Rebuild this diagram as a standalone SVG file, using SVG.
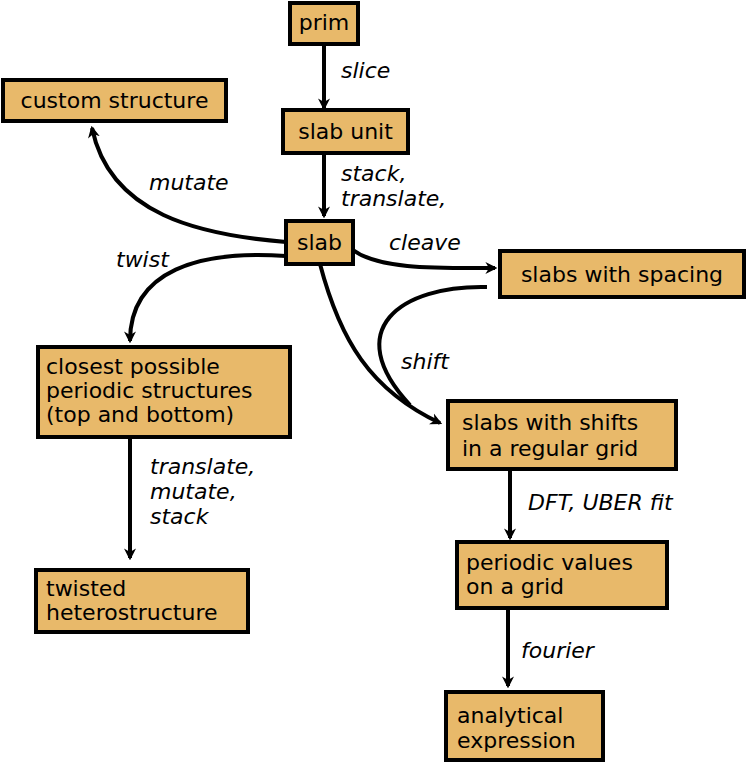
<svg xmlns="http://www.w3.org/2000/svg" width="747" height="763" viewBox="0 0 747 763">
<style>
.n rect{fill:#E8B96A;stroke:#000;stroke-width:4}
text{font-family:"DejaVu Sans",sans-serif;font-size:22px;fill:#000}
.l{font-style:italic}
#edges path{fill:none;stroke:#000;stroke-width:4}
</style>
<defs><marker id="a" viewBox="0 0 10 10" refX="8" refY="5" markerWidth="3" markerHeight="3.5" orient="auto" markerUnits="strokeWidth"><path d="M0,0 L10,5 L0,10 L3,5 z" fill="#000"/></marker></defs>
<rect width="747" height="763" fill="#fff"/>
<g id="edges">
<path d="M324,44 V108" marker-end="url(#a)"/>
<path d="M324,153 V216" marker-end="url(#a)"/>
<path d="M286,242 C200,235 110,215 92,128" marker-end="url(#a)"/>
<path d="M286,256 C200,250 130,270 130,341" marker-end="url(#a)"/>
<path d="M353,250 C380,270 440,268 495,268" marker-end="url(#a)"/>
<path d="M320,264 C340,340 370,390 440,423" marker-end="url(#a)"/>
<path d="M487,287 C400,285 340,330 410,405"/>
<path d="M130,437 V558" marker-end="url(#a)"/>
<path d="M510,469 V538" marker-end="url(#a)"/>
<path d="M508,608 V686" marker-end="url(#a)"/>
</g>
<g class="n" id="prim"><rect x="290" y="3" width="68" height="41"/><text x="324" y="30" text-anchor="middle">prim</text></g>
<g class="n" id="custom"><rect x="3" y="80" width="223" height="41"/><text x="114.5" y="108" text-anchor="middle">custom structure</text></g>
<g class="n" id="slabunit"><rect x="283" y="110" width="125" height="43"/><text x="345.5" y="139" text-anchor="middle">slab unit</text></g>
<g class="n" id="slab"><rect x="286" y="221" width="67" height="43"/><text x="319.5" y="250" text-anchor="middle">slab</text></g>
<g class="n" id="spacing"><rect x="500" y="251" width="244" height="46"/><text x="622" y="282" text-anchor="middle">slabs with spacing</text></g>
<g class="n" id="closest"><rect x="38" y="347" width="252" height="90"/><text x="46" y="374">closest possible</text><text x="46" y="398">periodic structures</text><text x="46" y="422">(top and bottom)</text></g>
<g class="n" id="shifts"><rect x="448" y="401" width="228" height="68"/><text x="462" y="430">slabs with shifts</text><text x="462" y="456">in a regular grid</text></g>
<g class="n" id="twisted"><rect x="36" y="570" width="212" height="62"/><text x="46" y="596">twisted</text><text x="46" y="620">heterostructure</text></g>
<g class="n" id="periodic"><rect x="457" y="542" width="210" height="66"/><text x="466" y="570">periodic values</text><text x="466" y="594">on a grid</text></g>
<g class="n" id="analytical"><rect x="446" y="692" width="157" height="68"/><text x="457" y="723">analytical</text><text x="457" y="748">expression</text></g>
<g id="labels">
<text class="l" x="341" y="78">slice</text>
<text class="l" x="341" y="181">stack,</text>
<text class="l" x="341" y="206">translate,</text>
<text class="l" x="149" y="190">mutate</text>
<text class="l" x="389" y="250">cleave</text>
<text class="l" x="116" y="267">twist</text>
<text class="l" x="401" y="369">shift</text>
<text class="l" x="150" y="474">translate,</text>
<text class="l" x="150" y="499">mutate,</text>
<text class="l" x="150" y="524">stack</text>
<text class="l" x="528" y="510">DFT, UBER fit</text>
<text class="l" x="521" y="658">fourier</text>
</g>
</svg>
